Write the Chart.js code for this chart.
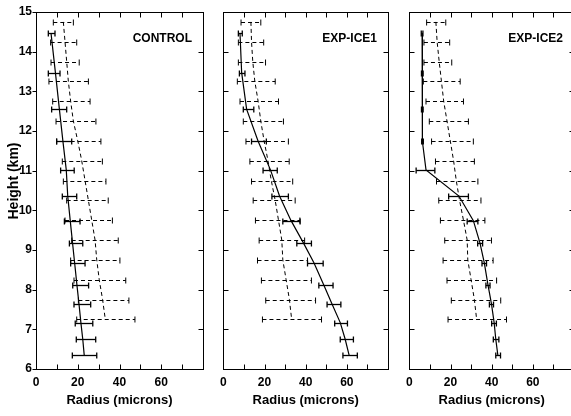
<!DOCTYPE html>
<html>
<head>
<meta charset="utf-8">
<script src="https://cdn.jsdelivr.net/npm/chart.js@4.4.0/dist/chart.umd.min.js"></script>
<style>
  body { margin: 0; width: 571px; height: 416px; overflow: hidden; background: #fff; position: relative; }
  canvas { position: absolute; top: 0; }
</style>
</head>
<body>
<canvas id="c1" width="210" height="416" style="left:0px"></canvas>
<canvas id="c2" width="181" height="416" style="left:214px"></canvas>
<canvas id="c3" width="181" height="416" style="left:400px"></canvas>
<script>
// heights (km) of the two kinds of profiles
const solidHeights = [14.46, 13.47, 12.55, 11.74, 11.02, 10.36, 9.74, 9.18, 8.68, 8.12, 7.64, 7.17, 6.75, 6.35];
const dashHeights = [14.75, 14.25, 13.75, 13.25, 12.75, 12.25, 11.75, 11.25, 10.75, 10.25, 9.75, 9.25, 8.75, 8.25, 7.75, 7.25];

const xTicks = [0, 20, 40, 60];
const yTicks = [6, 7, 8, 9, 10, 11, 12, 13, 14, 15];

// CONTROL
const ctrlSolid = [7.2, 9.3, 11.2, 12.9, 14.5, 15.2, 16.4, 17.5, 18.5, 19.6, 20.6, 21.5, 22.4, 23.1];
const ctrlSolidLo = [5.9, 5.9, 7.5, 9.9, 11.8, 12.6, 13.6, 16.0, 16.6, 17.6, 18.2, 18.8, 19.3, 17.4];
const ctrlSolidHi = [9.1, 11.5, 14.7, 17.1, 18.3, 19.5, 21.1, 22.4, 23.5, 25.2, 26.2, 27.2, 28.6, 29.1];
const ctrlDash = [13.1, 13.9, 14.7, 15.5, 16.6, 17.9, 20.0, 21.9, 23.5, 25.1, 26.7, 28.3, 29.1, 30.3, 31.9, 33.2];
const ctrlDashLo = [8.3, 7.0, 7.2, 6.2, 8.0, 9.6, 9.9, 12.6, 13.1, 14.7, 13.9, 17.1, 16.6, 18.2, 20.3, 19.5];
const ctrlDashHi = [17.9, 19.5, 20.7, 25.1, 25.9, 28.7, 31.1, 31.8, 33.5, 34.6, 36.6, 39.4, 40.2, 43.0, 44.5, 47.4];

// EXP-ICE1
const ice1Solid = [8.1, 8.9, 11.3, 16.9, 22.9, 27.3, 32.9, 38.9, 44.0, 48.8, 52.8, 56.8, 59.2, 61.1];
const ice1SolidLo = [7.3, 7.8, 9.7, 13.7, 19.3, 23.6, 28.9, 35.7, 40.9, 46.4, 50.4, 54.1, 56.8, 58.1];
const ice1SolidHi = [9.2, 10.5, 14.8, 20.9, 26.2, 31.6, 37.3, 42.8, 48.5, 53.3, 57.1, 60.3, 63.2, 65.1];
const ice1Dash = [13.4, 13.7, 14.3, 15.3, 16.9, 18.2, 19.8, 21.7, 23.3, 25.2, 26.8, 28.4, 28.9, 30.5, 32.1, 33.2];
const ice1DashLo = [8.6, 7.3, 7.3, 6.8, 8.1, 9.7, 11.0, 12.9, 13.7, 14.5, 15.6, 17.4, 16.6, 18.5, 20.6, 19.0];
const ice1DashHi = [18.2, 19.6, 20.5, 25.2, 26.8, 29.2, 31.6, 32.0, 33.7, 34.9, 37.2, 39.5, 40.9, 42.8, 44.8, 47.7];

// EXP-ICE2
const ice2Solid = [6.2, 6.3, 6.3, 6.4, 8.1, 24.1, 31.1, 34.3, 36.4, 38.2, 39.9, 41.2, 42.0, 43.0];
const ice2SolidLo = [5.8, 5.9, 5.9, 6.0, 3.3, 19.1, 28.1, 33.2, 35.3, 37.2, 38.9, 40.0, 40.8, 42.0];
const ice2SolidHi = [6.6, 6.7, 6.7, 6.8, 12.4, 28.7, 33.3, 35.6, 37.5, 39.2, 40.9, 42.3, 43.5, 44.3];
const ice2Dash = [12.9, 13.5, 14.5, 15.6, 16.7, 18.3, 19.9, 21.5, 22.8, 24.4, 26.3, 28.1, 28.4, 30.0, 31.6, 32.7];
const ice2DashLo = [8.4, 7.1, 7.1, 6.8, 8.1, 9.7, 10.8, 12.7, 13.2, 14.3, 15.1, 17.2, 16.4, 18.3, 20.4, 18.8];
const ice2DashHi = [17.7, 19.6, 20.6, 24.7, 26.3, 28.7, 31.1, 31.6, 33.3, 34.8, 36.7, 39.9, 40.7, 42.4, 44.4, 47.2];

const FONT = '"Liberation Sans", Arial, Helvetica, sans-serif';

// error bars, frame, inward ticks and panel names
const framePlugin = {
    id: 'frame',
    afterDatasetsDraw(chart, args, opts) {
        const { ctx, chartArea: a, scales: { x, y } } = chart;
        ctx.save();
        ctx.strokeStyle = '#000';
        chart.data.datasets.forEach((ds) => {
            ctx.lineWidth = ds.barWidth;
            ds.lo.forEach((lo, i) => {
                const py = Math.round(y.getPixelForValue(ds.data[i].y)) + 0.5;
                const x1 = x.getPixelForValue(lo);
                const x2 = x.getPixelForValue(ds.hi[i]);
                ctx.setLineDash(ds.borderDash || []);
                ctx.beginPath();
                ctx.moveTo(x1, py);
                ctx.lineTo(x2, py);
                ctx.stroke();
                ctx.setLineDash([]);
                ctx.beginPath();
                ctx.moveTo(x1, py - 3);
                ctx.lineTo(x1, py + 3);
                ctx.moveTo(x2, py - 3);
                ctx.lineTo(x2, py + 3);
                ctx.stroke();
            });
        });

        ctx.lineWidth = 1;
        const L = Math.round(a.left) + 0.5, R = Math.round(a.right) + 0.5;
        const T = Math.round(a.top) + 0.5, B = Math.round(a.bottom) + 0.5;
        ctx.strokeRect(L, T, R - L, B - T);
        ctx.beginPath();
        for (let v = 10; v < 80; v += 10) {
            const px = Math.round(x.getPixelForValue(v)) + 0.5;
            ctx.moveTo(px, B); ctx.lineTo(px, B - 5);
            ctx.moveTo(px, T); ctx.lineTo(px, T + 5);
        }
        yTicks.forEach((v) => {
            const py = Math.round(y.getPixelForValue(v)) + 0.5;
            if (opts.outer) {
                ctx.moveTo(L - 4, py); ctx.lineTo(L, py);
            } else if (v > 6 && v < 15) {
                ctx.moveTo(L, py); ctx.lineTo(L + 5, py);
            }
            if (v > 6 && v < 15) {
                ctx.moveTo(R, py); ctx.lineTo(R - 5, py);
            }
        });
        ctx.stroke();

        ctx.fillStyle = '#000';
        ctx.font = 'bold 12px ' + FONT;
        ctx.textAlign = 'right';
        ctx.textBaseline = 'alphabetic';
        ctx.fillText(opts.name, a.right - 11, 42);

        if (opts.outer) {
            ctx.translate(14, 181);
            ctx.rotate(-Math.PI / 2);
            ctx.font = 'bold 14px ' + FONT;
            ctx.textAlign = 'center';
            ctx.textBaseline = 'middle';
            ctx.fillText('Height (km)', 0, 0);
        }
        ctx.restore();
    }
};

function makePanel(id, name, solid, solidLo, solidHi, dash, dashLo, dashHi, first) {
    const info = {
        datasets: [
            {
                data: solidHeights.map((h, i) => ({ x: solid[i], y: h })),
                lo: solidLo,
                hi: solidHi,
                borderColor: '#000',
                borderWidth: 1.2,
                barWidth: 1.3,
                pointRadius: 0,
                tension: 0
            },
            {
                data: dashHeights.map((h, i) => ({ x: dash[i], y: h })),
                lo: dashLo,
                hi: dashHi,
                borderColor: '#000',
                borderWidth: 1,
                barWidth: 1,
                borderDash: [4, 3],
                pointRadius: 0,
                tension: 0
            }
        ]
    };
    const options = {
        responsive: false,
        animation: false,
        layout: { padding: { top: 12, left: first ? 0 : 7, right: 7, bottom: 0 } },
        plugins: {
            legend: { display: false },
            tooltip: { enabled: false },
            frame: { name: name, outer: first }
        },
        scales: {
            x: {
                type: 'linear',
                min: 0,
                max: 80,
                grid: { display: false, drawTicks: false },
                border: { display: false },
                ticks: {
                    stepSize: 10,
                    autoSkip: false,
                    maxRotation: 0,
                    padding: 6,
                    color: '#000',
                    font: { family: FONT, size: 12, weight: 'bold' },
                    callback: (v) => xTicks.includes(v) ? String(v) : ''
                },
                title: {
                    display: true,
                    text: 'Radius (microns)',
                    color: '#000',
                    font: { family: FONT, size: 13, weight: 'bold' },
                    padding: { top: 0, bottom: 8 }
                },
                afterFit: (s) => { s.height = 47; }
            },
            y: {
                type: 'linear',
                min: 6,
                max: 15,
                display: first,
                grid: { display: false, drawTicks: false },
                border: { display: false },
                ticks: {
                    stepSize: 1,
                    padding: 4,
                    color: '#000',
                    font: { family: FONT, size: 12, weight: 'bold' },
                    callback: (v) => yTicks.includes(v) ? String(v) : ''
                },
                afterFit: (s) => { s.width = first ? 36 : 0; }
            }
        }
    };
    return new Chart(document.getElementById(id), { type: 'line', data: info, options, plugins: [framePlugin] });
}

makePanel('c1', 'CONTROL', ctrlSolid, ctrlSolidLo, ctrlSolidHi, ctrlDash, ctrlDashLo, ctrlDashHi, true);
makePanel('c2', 'EXP-ICE1', ice1Solid, ice1SolidLo, ice1SolidHi, ice1Dash, ice1DashLo, ice1DashHi, false);
makePanel('c3', 'EXP-ICE2', ice2Solid, ice2SolidLo, ice2SolidHi, ice2Dash, ice2DashLo, ice2DashHi, false);
</script>
</body>
</html>
